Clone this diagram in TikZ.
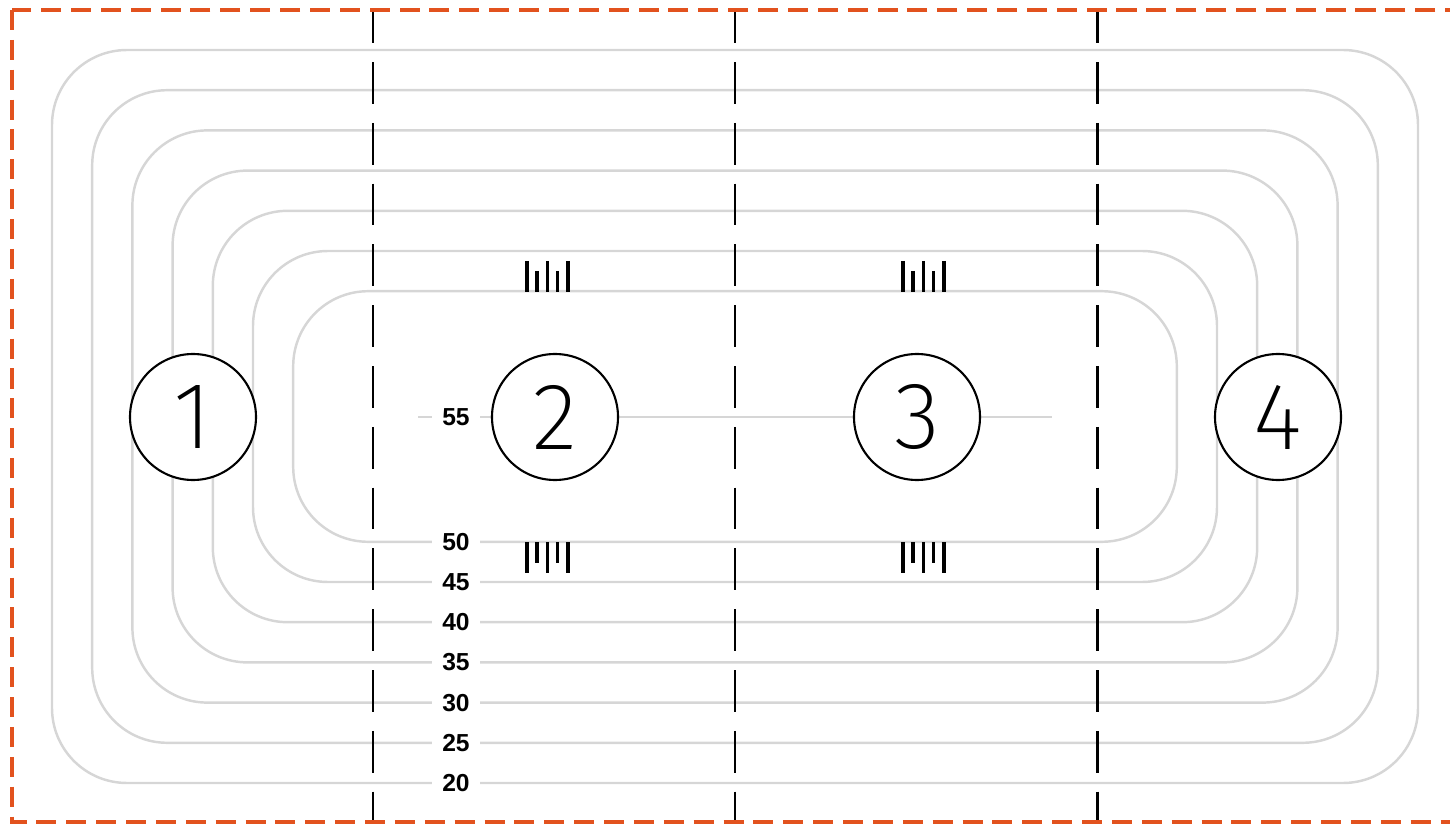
\documentclass[tikz,border=0pt]{standalone}
\usepackage{fontspec}
\setmainfont{Liberation Sans}
\IfFontExistsTF{Fira Sans ExtraLight}{\newfontfamily\zonefont{Fira Sans ExtraLight}}{%
	\IfFontExistsTF{Lato Light}{\newfontfamily\zonefont{Lato Light}}{\newfontfamily\zonefont{Lato Thin}}}
\usetikzlibrary{positioning}
\definecolor{planorange}{RGB}{226,82,30}
\definecolor{contourgray}{RGB}{214,214,214}

\begin{document}
\begin{tikzpicture}
	[x=0.1mm,y=-0.1mm,
	contour/.style={draw=contourgray,line width=0.7pt,rounded corners=7.5mm},
	section/.style={draw=black,line width=0.85pt,dash pattern=on 11.9pt off 5.4pt,dash phase=2.5pt},
	border/.style={draw=planorange,line width=1.3pt,dash pattern=on 5.7pt off 2.8pt},
	zone/.style={circle,draw=black,fill=white,line width=0.6pt,minimum size=12.6mm,inner sep=0pt,font=\zonefont\fontsize{27}{27}\selectfont},
	level/.style={fill=white,inner xsep=3pt,inner ysep=1pt,font=\bfseries\fontsize{7}{7}\selectfont},
	tickmark/.style={draw=black,line width=1.1pt}]
	\path[use as bounding box,clip] (0,0) rectangle (1450,825);
	
	\foreach \i/\lev in {0/20,1/25,2/30,3/35,4/40,5/45,6/50}
	\draw[contour] ({52+40.2*\i},{50+40.2*\i}) rectangle ({1418-40.2*\i},{783-40.2*\i});
	
	\coordinate (mid w) at (418,417);
	\coordinate (mid e) at (1052,417);
	\draw[contour] (mid w) -- (mid e);
	
	\foreach \x/\name in {373/s1,735/s2,1097/s3} {
		\coordinate (\name t) at (\x,10);
		\coordinate (\name b) at (\x,822);
		\draw[section] (\name t) -- (\name b);
	}
	
	\node[zone] (z1) at (193,417) {1};
	\node[zone] (z2) at (555,417) {2};
	\node[zone] (z3) at (917,417) {3};
	\node[zone] (z4) at (1278,417) {4};
	
	\node[level] (l55) at (456,417) {55};
	\foreach \i/\lev in {0/20,1/25,2/30,3/35,4/40,5/45,6/50}
	\node[level] (l\lev) at (456,{783-40.2*\i}) {\lev};
	
	\foreach \x in {527,903} {
		\foreach \dx/\ya in {0/261,10/271,20.5/261,30.5/271,41/261}
		\draw[tickmark] ({\x+\dx},\ya) -- ({\x+\dx},292);
		\foreach \dx/\yb in {0/573,10/563,20.5/573,30.5/563,41/573}
		\draw[tickmark] ({\x+\dx},542) -- ({\x+\dx},\yb);
	}
	
	\draw[border] (12,10) rectangle (1480,822);
	
\end{tikzpicture}
\end{document}
